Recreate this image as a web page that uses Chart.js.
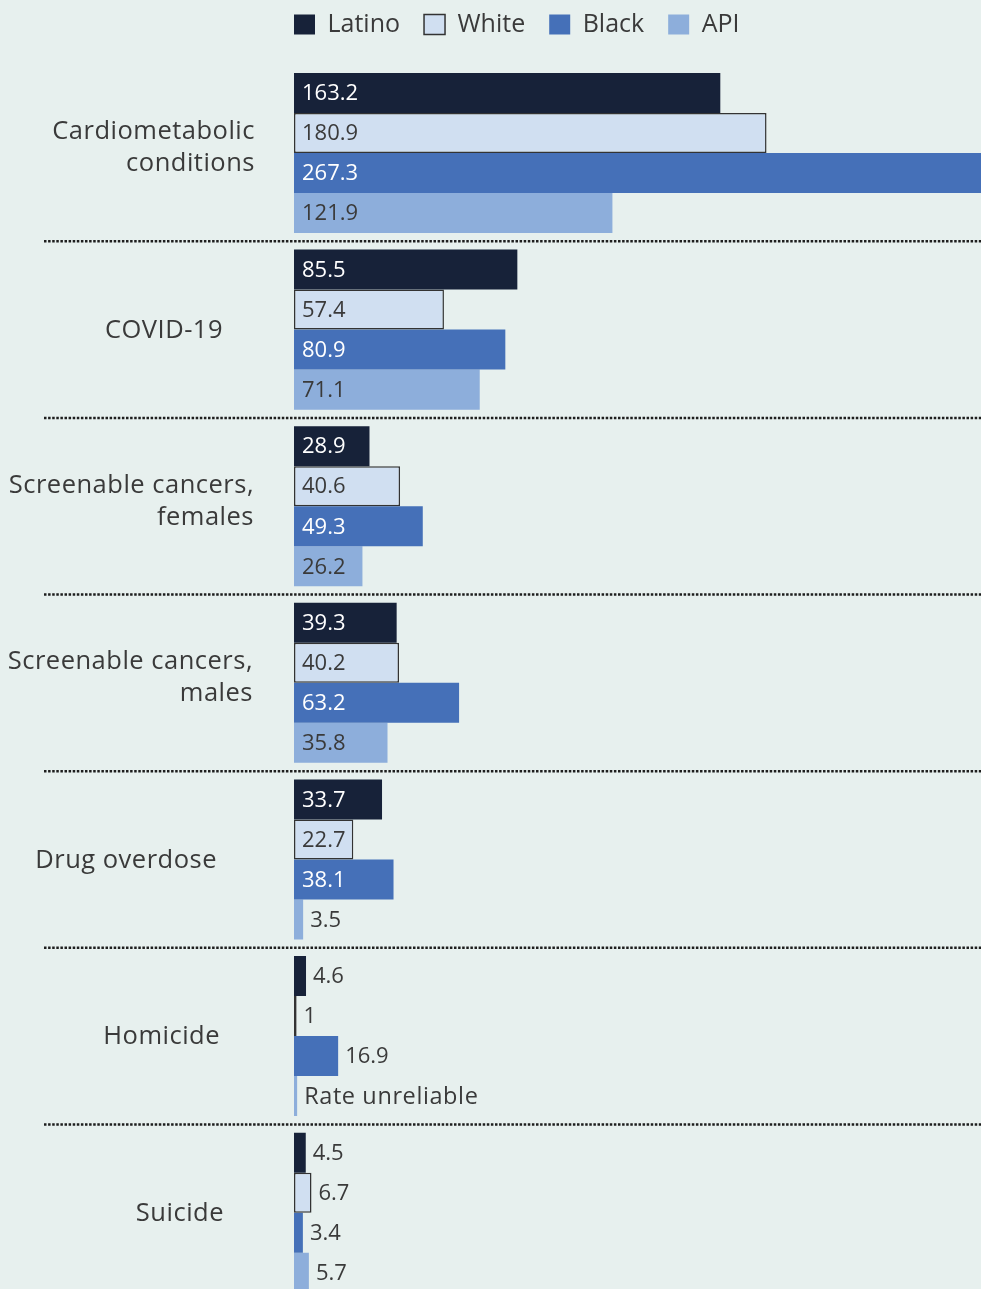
<!DOCTYPE html>
<html>
<head>
<meta charset="utf-8">
<script src="https://cdn.jsdelivr.net/npm/chart.js@4.4.0/dist/chart.umd.min.js"></script>
<style>
  html, body { margin: 0; padding: 0; background: #e7f0ee; overflow: hidden; }
  #wrap { position: relative; width: 981px; height: 1310px; }
</style>
</head>
<body>
<div id="wrap"><canvas id="barChart"></canvas></div>
<script>
// data
const categories = [['Cardiometabolic', 'conditions'], 'COVID-19', ['Screenable cancers,', 'females'],
  ['Screenable cancers,', 'males'], 'Drug overdose', 'Homicide', 'Suicide']
const latino = [163.2, 85.5, 28.9, 39.3, 33.7, 4.6, 4.5]
const white = [180.9, 57.4, 40.6, 40.2, 22.7, 1, 6.7]
const black = [267.3, 80.9, 49.3, 63.2, 38.1, 16.9, 3.4]
const api = [121.9, 71.1, 26.2, 35.8, 3.5, 1.2, 5.7]
const apiNotes = [null, null, null, null, null, 'Rate unreliable', null]

// right edge of each category label (layout)
const labelRight = [255, 223, 254, 253, 217, 220, 224]

const FONT = '"Open Sans"'
const TEXT = '#3a3a3a'

const decor = {
  id: 'decor',
  afterDatasetsDraw(chart) {
    const ctx = chart.ctx
    const y = chart.scales.y

    // dotted separators between groups
    ctx.save()
    ctx.strokeStyle = '#1e1e1e'
    ctx.lineWidth = 2.5
    ctx.setLineDash([2.5, 1.6])
    for (let i = 0; i < categories.length - 1; i++) {
      const yy = (y.getPixelForValue(i) + y.getPixelForValue(i + 1)) / 2
      ctx.beginPath()
      ctx.moveTo(44, yy)
      ctx.lineTo(chart.width, yy)
      ctx.stroke()
    }
    ctx.restore()

    // category labels
    ctx.save()
    ctx.fillStyle = TEXT
    ctx.font = '25.5px ' + FONT
    ctx.letterSpacing = '0.5px'
    ctx.textAlign = 'right'
    ctx.textBaseline = 'middle'
    categories.forEach((c, i) => {
      const lines = Array.isArray(c) ? c : [c]
      const yc = y.getPixelForValue(i) + (lines.length > 1 ? -5 : 1)
      lines.forEach((t, k) => {
        ctx.fillText(t, labelRight[i], yc + (k - (lines.length - 1) / 2) * 32)
      })
    })
    ctx.restore()

    // value labels
    ctx.save()
    ctx.textAlign = 'left'
    ctx.textBaseline = 'middle'
    chart.data.datasets.forEach((ds, di) => {
      const meta = chart.getDatasetMeta(di)
      meta.data.forEach((bar, i) => {
        const v = ds.data[i]
        const note = di === 3 ? apiNotes[i] : null
        const inside = !note && v >= 20
        let x
        if (inside) {
          x = bar.base + 8
          ctx.fillStyle = (di === 0 || di === 2) ? '#ffffff' : TEXT
        } else {
          x = bar.x + 7
          ctx.fillStyle = TEXT
        }
        ctx.font = (note ? '23.5px ' : '22px ') + FONT
        ctx.letterSpacing = note ? '0.6px' : '0px'
        ctx.fillText(note || String(v), x, bar.y + 1)
      })
    })
    ctx.restore()
  }
}

const ctx = document.getElementById('barChart').getContext('2d')

const myChart = new Chart(ctx, {
  type: 'bar',
  data: {
    labels: categories,
    datasets: [
      { label: 'Latino', data: latino, backgroundColor: '#172239', borderWidth: 0 },
      { label: 'White', data: white, backgroundColor: '#d0dff1', borderColor: '#333333', borderWidth: 1.5 },
      { label: 'Black', data: black, backgroundColor: '#4570b8', borderWidth: 0 },
      { label: 'API', data: api, backgroundColor: '#8daedb', borderWidth: 0 }
    ]
  },
  options: {
    indexAxis: 'y',
    responsive: true,
    maintainAspectRatio: false,
    animation: false,
    datasets: {
      bar: { barPercentage: 1, categoryPercentage: 0.906, borderSkipped: false }
    },
    layout: { padding: { top: -12, left: 270, right: 0, bottom: 9 } },
    scales: {
      x: {
        position: 'top', min: 0, max: 263,
        ticks: { display: false }, grid: { display: false }, border: { display: false },
        afterFit(s) { s.height = 17.7 }
      },
      y: {
        ticks: { display: false }, grid: { display: false }, border: { display: false },
        afterFit(s) { s.width = 24 }
      }
    },
    plugins: {
      legend: {
        position: 'top',
        align: 'start',
        labels: {
          boxWidth: 21, boxHeight: 20, padding: 24,
          color: TEXT, font: { family: FONT, size: 25 }
        }
      },
      tooltip: { enabled: false }
    }
  },
  plugins: [decor]
})
</script>
</body>
</html>
